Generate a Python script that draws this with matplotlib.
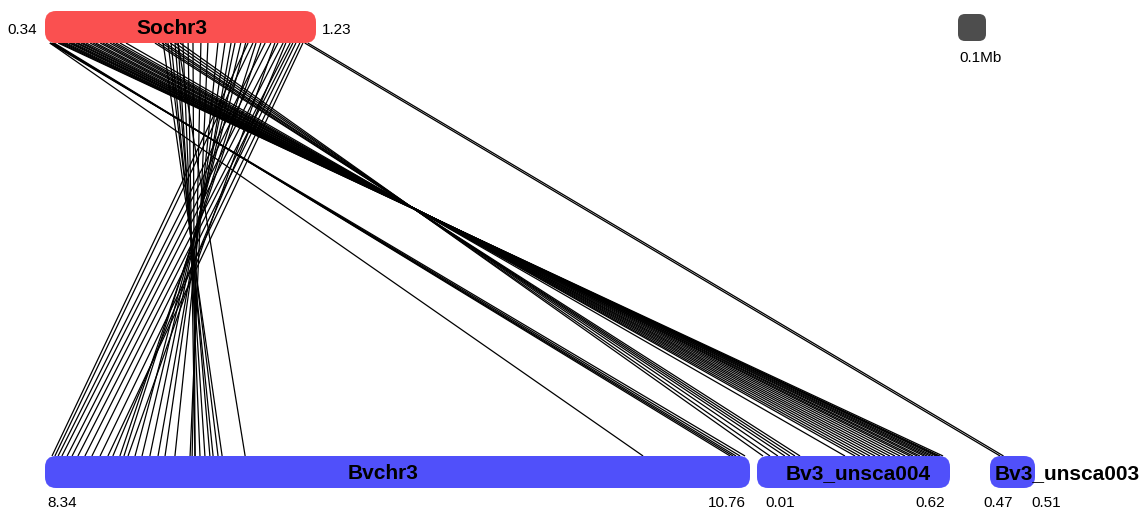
import matplotlib
matplotlib.use("Agg")
import matplotlib.pyplot as plt
from matplotlib.patches import FancyBboxPatch
from matplotlib.collections import LineCollection

plt.rcParams['font.family'] = ['Liberation Sans', 'DejaVu Sans']

# ---- data ----
top_name = "Sochr3"
top_range = (0.34, 1.23)
bottom_names = ["Bvchr3", "Bv3_unsca004", "Bv3_unsca003"]
bottom_ranges = [(8.34, 10.76), (0.01, 0.62), (0.47, 0.51)]

# links: position on Sochr3 (Mb) -> bottom chromosome index, position (Mb)
link_top = [
    # top-left bundle -> Bv3_unsca004
    0.383, 0.389, 0.396, 0.402, 0.409, 0.419, 0.425, 0.432, 0.442, 0.448,
    0.458, 0.465, 0.475, 0.488, 0.498, 0.507, 0.521, 0.530, 0.540, 0.553,
    0.563, 0.573, 0.586, 0.606, 0.701, 0.711, 0.724, 0.734, 0.751, 0.767,
    0.783,
    # top-left -> end of Bvchr3
    0.356, 0.360, 0.363, 0.366, 0.370, 0.356,
    # -> start of Bvchr3
    1.007, 1.023, 1.063, 1.082, 1.105, 1.122, 1.145, 1.154, 1.164, 1.177,
    1.187, 1.131, 1.049, 1.033, 1.095, 0.999, 0.983, 0.964, 0.951, 0.931,
    0.908, 0.875, 0.852, 0.826, 0.810, 0.793, 0.777, 0.767, 0.754, 0.744,
    0.728, 0.777,
    # -> Bv3_unsca003
    1.193, 1.203,
]
link_chrom = [1] * 31 + [0] * 6 + [0] * 32 + [2] * 2
link_bottom = [
    0.598, 0.588, 0.582, 0.576, 0.566, 0.557, 0.547, 0.538, 0.525, 0.516,
    0.503, 0.493, 0.478, 0.462, 0.446, 0.430, 0.414, 0.399, 0.383, 0.367,
    0.351, 0.335, 0.320, 0.288, 0.146, 0.130, 0.114, 0.098, 0.076, 0.051,
    0.029,
    10.743, 10.726, 10.712, 10.702, 10.692, 10.393,
    8.364, 8.374, 8.385, 8.398, 8.416, 8.433, 8.453, 8.477, 8.501, 8.529,
    8.556, 8.573, 8.597, 8.611, 8.625, 8.649, 8.673, 8.700, 8.728, 8.752,
    8.786, 8.838, 8.845, 8.855, 8.855, 8.872, 8.889, 8.906, 8.917, 8.934,
    8.948, 9.027,
    0.479, 0.482,
]

# ---- layout (pixel space) ----
W, H = 1145, 510
top_box = (45, 316)
bottom_boxes = [(45, 750), (757, 950), (990, 1035)]
top_y = (12, 44)
bot_y = (457, 489)

fig = plt.figure(figsize=(W / 100, H / 100), dpi=100)
ax = fig.add_axes([0, 0, 1, 1])
ax.set_xlim(0, W)
ax.set_ylim(H, 0)
ax.axis('off')


def to_px(p, rng, box):
    return box[0] + (p - rng[0]) / (rng[1] - rng[0]) * (box[1] - box[0])


segs = []
for t, c, b in zip(link_top, link_chrom, link_bottom):
    xt = to_px(t, top_range, top_box)
    xb = to_px(b, bottom_ranges[c], bottom_boxes[c])
    segs.append([(xt, top_y[1]), (xb, bot_y[0])])
ax.add_collection(LineCollection(segs, colors='black', linewidths=0.9, zorder=1))


def chrom(box, ys, color, name, name_x):
    p = FancyBboxPatch((box[0], ys[0]), box[1] - box[0], ys[1] - ys[0],
                       boxstyle="round,pad=0,rounding_size=11",
                       fc=color, ec='none', zorder=2)
    ax.add_patch(p)
    ax.text(name_x, (ys[0] + ys[1]) / 2 + 1, name, ha='center', va='center',
            fontsize=15, fontweight='bold', color='black', zorder=3)


red = '#FA5050'
blue = '#5050FA'
chrom(top_box, top_y, red, top_name, 172)
ax.text(22, 30, f"{top_range[0]:.2f}", ha='center', va='center', fontsize=11)
ax.text(337, 30, f"{top_range[1]:.2f}", ha='center', va='center', fontsize=11)

name_xs = [383, 858, 1067]
start_lbl_x = [62, 780, 998]
end_lbl_x = [727, 930, 1046]
for i, (nm, rng, box) in enumerate(zip(bottom_names, bottom_ranges, bottom_boxes)):
    chrom(box, bot_y, blue, nm, name_xs[i])
    ax.text(start_lbl_x[i], 503, f"{rng[0]:.2f}", ha='center', va='center', fontsize=11)
    ax.text(end_lbl_x[i], 503, f"{rng[1]:.2f}", ha='center', va='center', fontsize=11)

# scale bar
sq = FancyBboxPatch((958, 15), 28, 27, boxstyle="round,pad=0,rounding_size=7",
                    fc='#4D4D4D', ec='none')
ax.add_patch(sq)
ax.text(980, 58, "0.1Mb", ha='center', va='center', fontsize=11)

fig.savefig("out.png", dpi=100)
